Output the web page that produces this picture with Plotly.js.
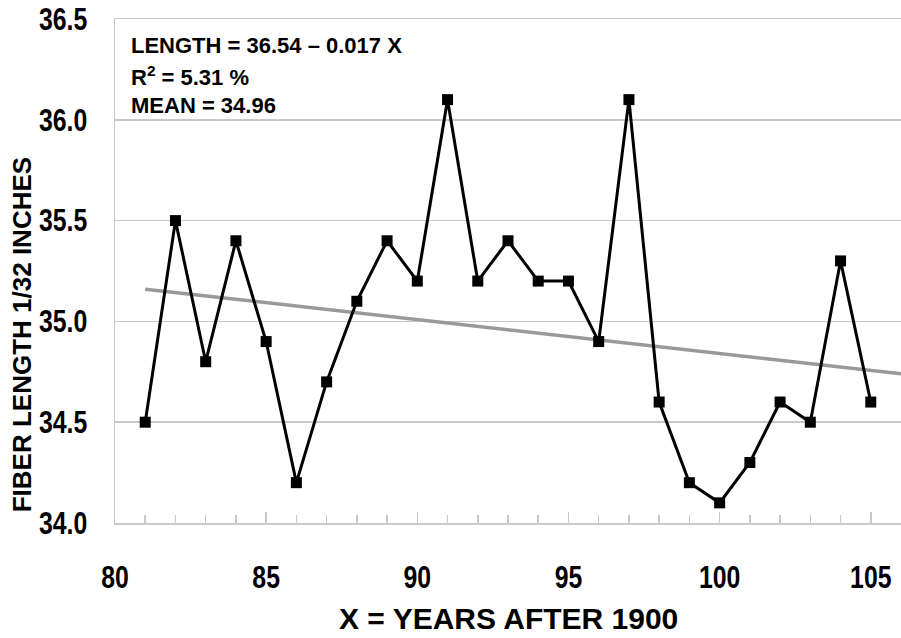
<!DOCTYPE html>
<html>
<head>
<meta charset="utf-8">
<script src="https://cdn.plot.ly/plotly-3.0.1.min.js"></script>
<style>
html,body{margin:0;padding:0;background:#fff;}
#chart{width:901px;height:638px;}
</style>
</head>
<body>
<div id="chart"></div>
<script>
// Data
var years = [81, 82, 83, 84, 85, 86, 87, 88, 89, 90, 91, 92, 93, 94, 95, 96, 97, 98, 99, 100, 101, 102, 103, 104, 105];
var fiberLength = [34.5, 35.5, 34.8, 35.4, 34.9, 34.2, 34.7, 35.1, 35.4, 35.2, 36.1, 35.2, 35.4, 35.2, 35.2, 34.9, 36.1, 34.6, 34.2, 34.1, 34.3, 34.6, 34.5, 35.3, 34.6];
var trendX = [81, 106];
var trendY = [35.16, 34.74];
var xTickVals = [80, 85, 90, 95, 100, 105];
var yTickVals = [34.0, 34.5, 35.0, 35.5, 36.0, 36.5];
var equationLines = ["LENGTH = 36.54 \u2013 0.017 X", "R<sup>2</sup> = 5.31 %", "MEAN = 34.96"];
var xTitle = "X = YEARS AFTER 1900";
var yTitle = "FIBER LENGTH 1/32 INCHES";

var tickFont = {family: "Arial, 'Liberation Sans', sans-serif", size: 31, color: "#000", weight: 700};
var gridCol = "#c8c8c8";

var traces = [
  {x: trendX, y: trendY, type: "scatter", mode: "lines",
   line: {color: "#999999", width: 3.5}, hoverinfo: "skip", showlegend: false},
  {x: years, y: fiberLength, type: "scatter", mode: "lines+markers",
   line: {color: "#000", width: 3},
   marker: {symbol: "square", size: 11, color: "#000"}, showlegend: false}
];

var eqY = [0.948, 0.887, 0.829];
var annotations = equationLines.map(function(t, i){
  return {text: t, xref: "paper", yref: "paper", x: 0.018, y: eqY[i],
          xanchor: "left", yanchor: "middle", showarrow: false,
          font: {family: "Arial, 'Liberation Sans', sans-serif", size: 22, color: "#000", weight: 700}};
});
annotations.push({text: xTitle, xref: "paper", yref: "paper", x: 0.5, y: -0.19,
  xanchor: "center", yanchor: "middle", showarrow: false,
  font: {family: "Arial, 'Liberation Sans', sans-serif", size: 30, color: "#000", weight: 700}});
annotations.push({text: yTitle, xref: "paper", yref: "paper", x: -0.118, y: 0.373,
  xanchor: "center", yanchor: "middle", showarrow: false, textangle: -90,
  font: {family: "Arial, 'Liberation Sans', sans-serif", size: 26, color: "#000", weight: 700}});

var layout = {
  width: 901, height: 638,
  margin: {l: 115, r: 0, t: 19, b: 115, pad: 0},
  paper_bgcolor: "#fff", plot_bgcolor: "#fff",
  xaxis: {range: [80, 106], tickvals: xTickVals, ticktext: xTickVals.map(String),
    ticks: "inside", ticklen: 11, tickwidth: 1.5, tickcolor: gridCol,
    minor: {ticks: "inside", dtick: 1, ticklen: 8, tickwidth: 1.5, tickcolor: gridCol, showgrid: false},
    showline: true, linecolor: gridCol, linewidth: 1.5, mirror: true,
    showgrid: false, zeroline: false, tickfont: tickFont, ticklabelstandoff: 26, fixedrange: true},
  yaxis: {range: [34, 36.5], tickvals: yTickVals, ticktext: yTickVals.map(function(v){return v.toFixed(1);}),
    ticks: "", showline: true, linecolor: gridCol, linewidth: 1.5,
    showgrid: true, gridcolor: gridCol, gridwidth: 1.5, zeroline: false,
    tickfont: tickFont, ticklabelstandoff: 20, fixedrange: true},
  annotations: annotations
};

Plotly.newPlot("chart", traces, layout, {displayModeBar: false, staticPlot: true}).then(function(gd){
  // condense the tick label glyphs horizontally, about each label's anchor point
  var texts = gd.querySelectorAll(".xtick text, .ytick text");
  texts.forEach(function(t){
    var x = parseFloat(t.getAttribute("x")) || 0;
    var tr = t.getAttribute("transform") || "";
    t.setAttribute("transform", tr + " translate(" + x + ",0) scale(0.8,1) translate(" + (-x) + ",0)");
  });
});
</script>
</body>
</html>
